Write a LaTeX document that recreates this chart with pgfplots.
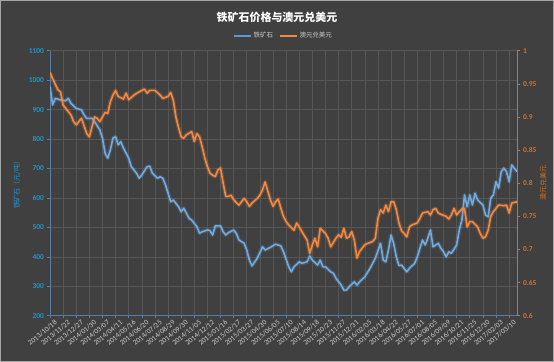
\documentclass[border=0pt]{standalone}
\usepackage{fontspec}
\setmainfont{Carlito}
\newfontfamily\cjk{Noto Sans CJK SC}
\usepackage{pgfplots}
\usepackage{pgfplotstable}
\pgfplotsset{compat=1.18}
\definecolor{bg}{RGB}{64,64,64}
\definecolor{gridc}{RGB}{86,86,86}
\definecolor{ironc}{RGB}{91,155,213}
\definecolor{audc}{RGB}{237,125,49}
\definecolor{lblue}{RGB}{30,150,210}
\definecolor{lorange}{RGB}{210,112,40}
\definecolor{xlab}{RGB}{205,205,205}
\definecolor{axc}{RGB}{85,125,165}

\pgfplotstableread{
x y
0 978
1 916
2 938
4 933
6 930
7 938
8 921
10 904
12 899
13 882
14 870
16 870
17 859
19 831
20 803
21 752
22 735
23 763
24 803
25 808
26 780
27 791
28 769
30 735
31 706
33 684
34 667
35 678
37 706
38 708
39 684
41 667
42 672
43 667
44 645
46 587
47 593
49 570
50 553
51 565
53 531
54 525
56 502
57 480
58 485
60 491
61 489
62 474
63 505
65 505
66 485
67 474
68 482
70 491
71 480
72 457
74 446
75 423
76 389
77 369
79 395
80 414
81 434
82 423
84 432
86 443
88 437
89 417
91 366
92 349
93 366
95 383
96 378
98 383
99 403
100 389
102 372
103 389
104 366
105 366
107 349
108 344
109 327
111 304
112 287
113 287
114 298
116 315
117 304
118 315
120 332
122 361
124 395
126 446
127 389
128 383
129 423
130 474
131 445
132 400
133 370
134 372
136 349
137 361
139 378
140 400
141 429
142 457
143 440
144 463
145 491
146 434
148 446
149 429
150 417
151 400
152 417
153 412
155 440
156 491
157 525
158 610
159 570
160 610
161 576
162 616
163 593
165 576
166 542
167 536
168 599
169 610
170 655
171 633
172 689
173 701
174 689
175 655
176 712
178 689
}\irondata

\pgfplotstableread{
x y
0 0.967
1 0.958
3 0.941
4 0.938
5 0.918
7 0.908
8 0.903
9 0.893
10 0.888
12 0.898
14 0.875
15 0.870
16 0.885
17 0.900
18 0.898
19 0.893
21 0.907
22 0.905
23 0.923
24 0.933
25 0.940
26 0.931
28 0.927
29 0.936
30 0.926
32 0.933
34 0.938
36 0.942
37 0.936
38 0.940
40 0.940
42 0.933
43 0.928
45 0.931
46 0.937
47 0.925
48 0.900
49 0.884
50 0.870
51 0.868
52 0.873
54 0.878
55 0.863
56 0.875
57 0.870
58 0.855
59 0.838
60 0.825
61 0.815
62 0.812
63 0.810
64 0.820
65 0.823
66 0.800
67 0.780
68 0.780
69 0.782
70 0.775
72 0.767
73 0.772
74 0.777
75 0.772
76 0.765
77 0.770
79 0.777
80 0.782
81 0.790
82 0.802
84 0.775
85 0.765
86 0.772
87 0.776
88 0.762
89 0.750
90 0.742
91 0.737
93 0.729
94 0.740
95 0.734
96 0.727
98 0.714
99 0.694
100 0.707
101 0.717
102 0.704
103 0.732
105 0.724
106 0.717
107 0.704
109 0.717
110 0.722
111 0.718
112 0.732
113 0.717
114 0.719
115 0.727
116 0.714
117 0.687
118 0.697
120 0.707
121 0.709
123 0.712
124 0.717
125 0.747
126 0.760
127 0.755
128 0.767
129 0.757
130 0.772
131 0.772
132 0.760
133 0.740
134 0.728
135 0.724
136 0.719
137 0.734
138 0.737
140 0.740
141 0.747
142 0.755
144 0.757
145 0.752
146 0.760
147 0.762
148 0.755
149 0.753
151 0.750
152 0.746
153 0.752
154 0.762
155 0.752
156 0.757
157 0.761
158 0.762
159 0.734
160 0.742
161 0.742
162 0.738
163 0.734
164 0.724
165 0.717
166 0.719
167 0.729
168 0.750
169 0.757
170 0.762
171 0.767
173 0.766
174 0.767
175 0.755
176 0.770
178 0.772
}\auddata

\begin{document}
\begin{tikzpicture}
\fill[bg] (0,0) rectangle (554bp,362bp);
\draw[gray!70, line width=0.8bp] (0.4bp,0.4bp) rectangle (553.6bp,361.6bp);
\begin{axis}[
  at={(50bp,46.3bp)}, anchor=south west,
  scale only axis, width=467bp, height=265bp,
  xmin=0, xmax=178, ymin=200, ymax=1100,
  ytick={200,300,...,1100},
  xtick={0,5,...,175},
  xticklabels={2013/10/18,2013/11/22,2013/12/27,2014/01/30,2014/03/07,2014/04/11,2014/05/16,2014/06/20,2014/07/25,2014/08/29,2014/09/30,2014/11/05,2014/12/12,2015/01/16,2015/02/17,2015/03/27,2015/04/30,2015/06/05,2015/07/10,2015/08/14,2015/09/18,2015/10/23,2015/11/27,2015/12/31,2016/02/05,2016/03/18,2016/04/22,2016/05/27,2016/07/01,2016/08/05,2016/09/09,2016/10/21,2016/11/25,2016/12/30,2017/02/03,2017/03/10},
  grid=major, grid style={gridc, line width=0.6bp},
  axis x line*=bottom, axis y line*=left,
  axis line style={axc, line width=0.8bp},
  major tick length=2.5bp,
  tick style={axc, line width=0.6bp},
  tick align=outside,
  /pgf/number format/assume math mode=true,
  /pgf/number format/1000 sep={},
  yticklabel style={font=\bfseries\fontsize{7.5}{8}\selectfont, text=lblue},
  xticklabel style={font=\fontsize{7.3}{8}\selectfont, text=xlab, rotate=40, anchor=north east, inner sep=0.5bp, xshift=3bp, yshift=-3bp},
  ylabel={\cjk 铁矿石（元/吨）},
  ylabel style={font=\fontsize{7}{8}\selectfont, text=lblue, at={(axis description cs:-0.0707,0.5)}, anchor=center},
]
\addplot[ironc, opacity=0.25, line width=4bp, line join=round, forget plot] table[x=x,y=y] {\irondata};
\addplot[ironc!85!white, line width=1.6bp, line join=round] table[x=x,y=y] {\irondata};
\end{axis}
\begin{axis}[
  at={(50bp,46.3bp)}, anchor=south west,
  scale only axis, width=467bp, height=265bp,
  xmin=0, xmax=178, ymin=0.6, ymax=1,
  axis x line=none, axis y line*=right,
  ytick={0.6,0.65,0.7,0.75,0.8,0.85,0.9,0.95,1},
  axis line style={lorange, line width=0.8bp},
  major tick length=2.5bp,
  tick style={lorange, line width=0.6bp},
  tick align=outside,
  /pgf/number format/assume math mode=true,
  /pgf/number format/fixed, /pgf/number format/precision=2,
  yticklabel style={font=\bfseries\fontsize{7.5}{8}\selectfont, text=lorange},
  ylabel={\cjk 澳元兑美元},
  ylabel style={font=\fontsize{7}{8}\selectfont, text=lorange, at={(axis description cs:1.056,0.5)}, anchor=center},
  legend columns=2,
  legend style={at={(axis description cs:0.5,1.056)}, anchor=center, draw=none, fill=none, text=xlab, font=\cjk\fontsize{6.5}{8}\selectfont, /tikz/every even column/.append style={column sep=4bp}},
  legend image post style={line width=1.5bp},
]
\addlegendimage{ironc, line width=1.5bp}
\addlegendentry{铁矿石}
\addplot[audc, opacity=0.25, line width=4bp, line join=round, forget plot] table[x=x,y=y] {\auddata};
\addplot[audc!90!white, line width=1.6bp, line join=round] table[x=x,y=y] {\auddata};
\addlegendentry{澳元兑美元}
\end{axis}
\node[text=white, font=\cjk\bfseries\fontsize{11}{13}\selectfont] at (277bp,345bp) {铁矿石价格与澳元兑美元};
\end{tikzpicture}
\end{document}
